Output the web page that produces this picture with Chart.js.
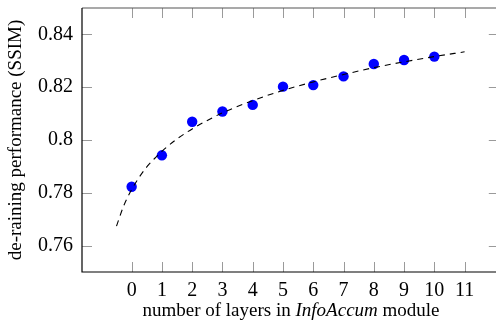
<!DOCTYPE html>
<html>
<head>
<meta charset="utf-8">
<script src="https://cdn.jsdelivr.net/npm/chart.js@4/dist/chart.umd.min.js"></script>
<style>
  html, body { margin: 0; padding: 0; background: #fff; overflow: hidden; }
  #wrap { width: 504px; height: 323px; }
</style>
</head>
<body>
<div id="wrap"><canvas id="c" width="504" height="323"></canvas></div>
<script>
// ---- data ----
const layers = [0, 1, 2, 3, 4, 5, 6, 7, 8, 9, 10];
const ssim = [0.7823, 0.7942, 0.8069, 0.8108, 0.8133, 0.8202, 0.8208, 0.8241, 0.8288, 0.8303, 0.8316];
const fitX = [-0.5, -0.25, 0, 0.25, 0.5, 0.75, 1, 1.5, 2, 2.5, 3, 4, 5, 6, 7, 8, 9, 10, 11];
const fitY = [0.7674, 0.7754, 0.7812, 0.7859, 0.7898, 0.7929, 0.7957, 0.8004, 0.8042, 0.8074, 0.8103, 0.8149, 0.8188, 0.8220, 0.8248, 0.8274, 0.8296, 0.8316, 0.8334];
const xTicks = [0, 1, 2, 3, 4, 5, 6, 7, 8, 9, 10, 11];
const yTicks = [0.76, 0.78, 0.80, 0.82, 0.84];
const yTickLabels = ['0.76', '0.78', '0.8', '0.82', '0.84'];
const xTitleParts = [['number of layers in ', false], ['InfoAccum', true], [' module', false]];
const yTitle = 'de-raining performance (SSIM)';

const FONT = '"Liberation Serif", "Times New Roman", serif';

const framePlugin = {
  id: 'frame',
  afterDraw(chart) {
    const ctx = chart.ctx;
    const a = chart.chartArea;
    const xs = chart.scales.x, ys = chart.scales.y;
    ctx.save();
    // inner ticks
    ctx.strokeStyle = '#9a9a9a';
    ctx.lineWidth = 1;
    const L = 10;
    ctx.beginPath();
    xs.ticks.forEach(t => {
      const px = Math.round(xs.getPixelForValue(t.value)) + 0.5;
      ctx.moveTo(px, a.bottom); ctx.lineTo(px, a.bottom - L);
      ctx.moveTo(px, a.top); ctx.lineTo(px, a.top + L);
    });
    ys.ticks.forEach(t => {
      const py = Math.round(ys.getPixelForValue(t.value)) + 0.5;
      ctx.moveTo(a.left, py); ctx.lineTo(a.left + L, py);
      ctx.moveTo(a.right, py); ctx.lineTo(a.right - L, py);
    });
    ctx.stroke();
    // frame
    ctx.lineWidth = 1.2;
    ctx.strokeStyle = '#555';
    ctx.beginPath();
    ctx.moveTo(a.left, a.top); ctx.lineTo(a.right, a.top); ctx.lineTo(a.right, a.bottom);
    ctx.stroke();
    ctx.strokeStyle = '#000';
    ctx.beginPath();
    ctx.moveTo(a.left, a.top); ctx.lineTo(a.left, a.bottom); ctx.lineTo(a.right, a.bottom);
    ctx.stroke();
    // x title with italic part
    ctx.fillStyle = '#000';
    ctx.textBaseline = 'alphabetic';
    ctx.textAlign = 'left';
    let total = 0;
    const widths = xTitleParts.map(([s, it]) => {
      ctx.font = (it ? 'italic ' : '') + '19px ' + FONT;
      const w = ctx.measureText(s).width; total += w; return w;
    });
    let x = 291 - total / 2;
    xTitleParts.forEach(([s, it], i) => {
      ctx.font = (it ? 'italic ' : '') + '19px ' + FONT;
      ctx.fillText(s, x, 316);
      x += widths[i];
    });
    ctx.restore();
  }
};

new Chart(document.getElementById('c'), {
  type: 'scatter',
  data: {
    datasets: [
      {
        label: 'fit',
        data: fitX.map((x, i) => ({ x, y: fitY[i] })),
        showLine: true,
        borderColor: '#000',
        borderWidth: 1.1,
        borderDash: [6, 5],
        pointRadius: 0,
        cubicInterpolationMode: 'monotone',
        order: 0
      },
      {
        label: 'SSIM',
        data: layers.map((x, i) => ({ x, y: ssim[i] })),
        backgroundColor: '#0000ff',
        borderColor: '#0000ff',
        borderWidth: 0,
        pointRadius: 5.2,
        order: 1
      }
    ]
  },
  options: {
    responsive: false,
    animation: false,
    layout: { padding: { left: 0, right: 0, top: 8, bottom: 0 } },
    plugins: { legend: { display: false }, tooltip: { enabled: false } },
    scales: {
      x: {
        type: 'linear',
        min: -1.64,
        max: 12.13,
        grid: { display: false, drawTicks: false },
        border: { display: false },
        afterBuildTicks: s => { s.ticks = xTicks.map(v => ({ value: v })); },
        afterFit: s => { s.height = 51; s.paddingLeft = 0; s.paddingRight = 0; },
        ticks: {
          color: '#000',
          padding: 7,
          maxRotation: 0,
          autoSkip: false,
          font: { family: FONT, size: 20 },
          callback: v => String(v)
        }
      },
      y: {
        min: 0.75,
        max: 0.85,
        grid: { display: false, drawTicks: false },
        border: { display: false },
        afterBuildTicks: s => { s.ticks = yTicks.map(v => ({ value: v })); },
        afterFit: s => { s.width = 82; s.paddingTop = 0; s.paddingBottom = 0; },
        ticks: {
          color: '#000',
          padding: 9,
          autoSkip: false,
          font: { family: FONT, size: 20 },
          callback: (v) => { const i = yTicks.findIndex(t => Math.abs(t - v) < 1e-9); return i >= 0 ? yTickLabels[i] : ''; }
        },
        title: {
          display: true,
          text: yTitle,
          color: '#000',
          font: { family: FONT, size: 19 },
          padding: { top: 5, bottom: 0 }
        }
      }
    }
  },
  plugins: [framePlugin]
});
</script>
</body>
</html>
